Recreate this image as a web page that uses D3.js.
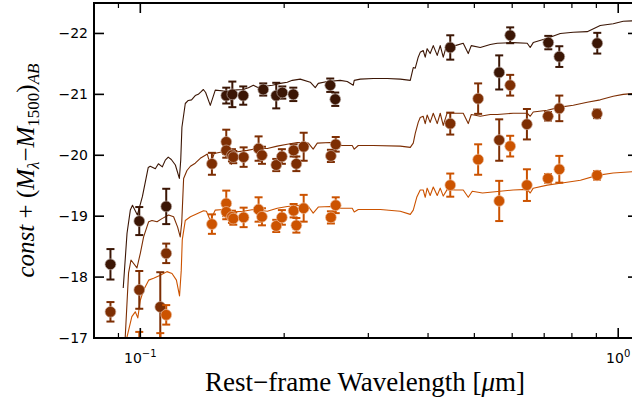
<!DOCTYPE html>
<html><head><meta charset="utf-8">
<script src="https://cdn.jsdelivr.net/npm/d3@7"></script>
<style>body{margin:0;background:#fff}</style>
</head><body>
<svg id="chart" width="632" height="400"></svg>
<script>
// Axis ticks
const xMajorTicks = [0.1, 1];
const xMinorTicks = [0.09, 0.2, 0.3, 0.4, 0.5, 0.6, 0.7, 0.8, 0.9];
const yTicks = [-22, -21, -20, -19, -18, -17];

// Model spectra (rest-frame wavelength in micron, AB magnitude)
const modelDarkLam = [0.0921,0.0938,0.0953,0.0963,0.0986,0.1010,0.1039,0.1049,0.1075,0.1091,0.1112,0.1128,0.1144,0.1161,0.1184,0.1207,0.1215,0.1222,0.1242,0.1260,0.1280,0.1303,0.1322,0.1339,0.1355,0.1370,0.1401,0.1435,0.1513,0.1543,0.1550,0.1565,0.1642,0.1683,0.1724,0.1766,0.1808,0.1889,0.1963,0.2030,0.2080,0.2161,0.2268,0.2323,0.2357,0.2462,0.2620,0.2710,0.2790,0.2803,0.2886,0.3072,0.3287,0.3499,0.3672,0.3725,0.3761,0.3815,0.3852,0.3908,0.3946,0.3983,0.4041,0.4102,0.4181,0.4242,0.4304,0.4388,0.4560,0.4739,0.4855,0.4926,0.5144,0.5399,0.5584,0.6028,0.6450,0.6544,0.6640,0.7106,0.7565,0.8052,0.8613,0.9170,0.9761,1.0243,1.10];
const modelDarkMag = [-17.82,-18.72,-19.10,-19.18,-19.02,-19.32,-19.80,-19.82,-19.78,-19.86,-19.81,-19.92,-19.97,-19.93,-19.84,-19.62,-19.92,-20.46,-20.85,-20.90,-20.91,-20.98,-21.00,-21.04,-21.08,-21.03,-20.82,-21.07,-21.05,-21.03,-20.82,-21.07,-21.08,-21.11,-21.15,-21.11,-21.13,-21.15,-21.18,-21.20,-21.23,-21.25,-21.20,-21.11,-21.18,-21.21,-21.23,-21.21,-21.15,-21.23,-21.25,-21.26,-21.26,-21.25,-21.23,-21.44,-21.43,-21.61,-21.69,-21.72,-21.61,-21.75,-21.67,-21.80,-21.64,-21.80,-21.61,-21.84,-21.80,-21.84,-21.67,-21.80,-21.77,-21.82,-21.84,-21.85,-21.84,-21.77,-21.85,-21.92,-22.00,-22.02,-22.03,-22.13,-22.16,-22.20,-22.21];

const modelMidLam = [0.0925,0.0930,0.0945,0.0956,0.0984,0.1000,0.1016,0.1041,0.1058,0.1084,0.1110,0.1146,0.1174,0.1197,0.1212,0.1221,0.1232,0.1252,0.1273,0.1303,0.1335,0.1368,0.1381,0.1401,0.1428,0.1470,0.1513,0.1535,0.1550,0.1572,0.1675,0.1757,0.1844,0.1934,0.2030,0.2131,0.2247,0.2300,0.2346,0.2497,0.2620,0.2776,0.2803,0.2858,0.3072,0.3499,0.3672,0.3725,0.3761,0.3815,0.3852,0.3908,0.3946,0.3983,0.4041,0.4102,0.4181,0.4242,0.4304,0.4388,0.4560,0.4739,0.4855,0.4926,0.5144,0.5399,0.5584,0.6028,0.6450,0.6544,0.6640,0.7106,0.7565,0.8052,0.8613,0.9170,0.9761,1.0243,1.10];
const modelMidMag = [-16.60,-17.02,-18.07,-18.28,-18.15,-18.39,-18.66,-18.91,-18.93,-18.91,-18.96,-19.02,-18.99,-18.82,-18.66,-18.90,-19.62,-19.75,-19.82,-19.87,-19.95,-20.00,-20.02,-19.84,-20.03,-20.05,-20.07,-20.05,-19.85,-20.05,-20.08,-20.11,-20.11,-20.15,-20.18,-20.21,-20.20,-20.10,-20.20,-20.21,-20.16,-20.16,-20.10,-20.16,-20.16,-20.15,-20.13,-20.20,-20.36,-20.54,-20.62,-20.64,-20.52,-20.66,-20.54,-20.69,-20.52,-20.69,-20.49,-20.70,-20.69,-20.69,-20.52,-20.67,-20.64,-20.67,-20.67,-20.69,-20.69,-20.64,-20.71,-20.74,-20.79,-20.82,-20.87,-20.91,-20.97,-21.00,-21.02];

const modelOrgLam = [0.0932,0.0938,0.0960,0.0976,0.0988,0.1000,0.1016,0.1041,0.1066,0.1101,0.1137,0.1165,0.1190,0.1208,0.1218,0.1224,0.1242,0.1273,0.1314,0.1356,0.1375,0.1401,0.1435,0.1492,0.1528,0.1550,0.1572,0.1642,0.1724,0.1844,0.1934,0.2030,0.2161,0.2252,0.2300,0.2357,0.2497,0.2620,0.2776,0.2803,0.2858,0.3180,0.3499,0.3672,0.3725,0.3788,0.3852,0.3908,0.3946,0.3983,0.4041,0.4102,0.4181,0.4242,0.4304,0.4388,0.4560,0.4739,0.4855,0.4950,0.5200,0.5659,0.6028,0.6450,0.6544,0.6640,0.7106,0.7565,0.8336,0.9040,0.9761,1.0698,1.10];
const modelOrgMag = [-16.60,-17.02,-17.35,-17.43,-17.33,-17.62,-17.79,-17.95,-17.98,-18.03,-18.09,-18.06,-17.95,-17.69,-18.11,-18.61,-18.93,-18.99,-19.04,-19.09,-19.08,-18.93,-19.10,-19.11,-19.08,-18.90,-19.07,-19.08,-19.11,-19.08,-19.13,-19.16,-19.18,-19.15,-19.05,-19.15,-19.16,-19.13,-19.13,-19.07,-19.11,-19.11,-19.08,-19.03,-19.10,-19.31,-19.43,-19.43,-19.31,-19.46,-19.34,-19.48,-19.34,-19.46,-19.33,-19.44,-19.43,-19.43,-19.31,-19.41,-19.38,-19.41,-19.43,-19.44,-19.38,-19.46,-19.51,-19.54,-19.59,-19.67,-19.71,-19.73,-19.73];

// Photometry with 1-sigma errors
const obsDarkLam = [0.0866,0.0995,0.1133,0.1513,0.1558,0.1642,0.1808,0.1925,0.1982,0.2090,0.2497,0.2558,0.4452,0.5636,0.5942,0.7140,0.7529,0.9040];
const obsDarkMag = [-18.21,-18.92,-19.16,-20.98,-21.00,-20.98,-21.08,-20.98,-21.03,-21.00,-21.15,-20.92,-21.77,-21.36,-21.97,-21.85,-21.62,-21.84];
const obsDarkErr = [0.25,0.23,0.29,0.13,0.21,0.15,0.10,0.21,0.10,0.11,0.11,0.11,0.20,0.28,0.13,0.11,0.17,0.17];

const obsMidLam = [0.0866,0.0995,0.1101,0.1133,0.1412,0.1513,0.1513,0.1555,0.1565,0.1645,0.1768,0.1797,0.1925,0.1978,0.2093,0.2121,0.2197,0.2505,0.2564,0.4452,0.5092,0.5636,0.5942,0.6441,0.7130,0.7529,0.9030];
const obsMidMag = [-17.43,-17.79,-17.51,-18.39,-19.86,-20.22,-20.08,-20.00,-19.97,-19.97,-20.11,-20.00,-19.84,-19.98,-20.08,-19.86,-20.14,-19.99,-20.18,-20.52,-20.93,-20.25,-21.15,-20.51,-20.64,-20.77,-20.68];
const obsMidErr = [0.16,0.31,0.57,0.16,0.18,0.20,0.12,0.10,0.10,0.16,0.20,0.14,0.10,0.12,0.10,0.12,0.23,0.10,0.12,0.18,0.25,0.34,0.17,0.25,0.07,0.21,0.07];

const obsOrgLam = [0.0866,0.0995,0.1101,0.1133,0.1412,0.1513,0.1513,0.1555,0.1565,0.1645,0.1768,0.1797,0.1925,0.1978,0.2093,0.2121,0.2197,0.2505,0.2564,0.4452,0.5092,0.5636,0.5942,0.6441,0.7130,0.7529,0.9030];
const obsOrgMag = [-16.44,-16.79,-16.51,-17.38,-18.87,-19.21,-19.07,-18.99,-18.96,-18.98,-19.11,-18.99,-18.84,-18.98,-19.09,-18.85,-19.13,-18.98,-19.18,-19.51,-19.93,-19.25,-20.15,-19.51,-19.62,-19.77,-19.67];
const obsOrgErr = [0.16,0.31,0.57,0.16,0.16,0.21,0.12,0.10,0.10,0.16,0.20,0.14,0.10,0.12,0.11,0.12,0.22,0.10,0.13,0.19,0.25,0.33,0.17,0.26,0.07,0.22,0.07];

const colDark = "#3b1605", colMid = "#7d2e03", colOrg = "#cc5300";

const svg = d3.select("#chart");
const x = d3.scaleLog().domain([0.08, 1.1]).range([94, 638]);
const y = d3.scaleLinear().domain([-22.5, -17]).range([3, 338]);
const [x0, x1] = x.range(), [y0, y1] = y.range();

svg.append("clipPath").attr("id", "plotclip")
  .append("rect").attr("x", x0).attr("y", y0).attr("width", x1 - x0).attr("height", y1 - y0);
const plot = svg.append("g").attr("clip-path", "url(#plotclip)");

const line = d3.line().x(d => x(d[0])).y(d => y(d[1]));
[[modelDarkLam, modelDarkMag, colDark], [modelMidLam, modelMidMag, colMid], [modelOrgLam, modelOrgMag, colOrg]]
  .forEach(([lam, mag, c]) => {
    plot.append("path").datum(d3.zip(lam, mag)).attr("d", line)
      .attr("fill", "none").attr("stroke", c).attr("stroke-width", 1.1).attr("stroke-linejoin", "round");
  });

function drawPoints(lam, mag, err, c) {
  const g = plot.append("g");
  const pts = d3.zip(lam, mag, err);
  const halo = d3.interpolateRgb(c, "#ffffff")(0.6);
  pts.forEach(([l, m, e]) => {
    const px = x(l), ya = y(m - e), yb = y(m + e);
    g.append("line").attr("x1", px).attr("x2", px).attr("y1", ya).attr("y2", yb)
      .attr("stroke", c).attr("stroke-width", 2);
    [ya, yb].forEach(yy => g.append("line").attr("x1", px - 4).attr("x2", px + 4)
      .attr("y1", yy).attr("y2", yy).attr("stroke", c).attr("stroke-width", 2));
  });
  g.selectAll("circle").data(pts).join("circle")
    .attr("cx", d => x(d[0])).attr("cy", d => y(d[1])).attr("r", 5.4)
    .attr("fill", c).attr("stroke", halo).attr("stroke-width", 0.7);
}
drawPoints(obsDarkLam, obsDarkMag, obsDarkErr, colDark);
drawPoints(obsMidLam, obsMidMag, obsMidErr, colMid);
drawPoints(obsOrgLam, obsOrgMag, obsOrgErr, colOrg);

// Frame and inward ticks on all four sides
const axes = svg.append("g").attr("stroke", "#000");
axes.append("rect").attr("x", x0).attr("y", y0).attr("width", x1 - x0).attr("height", y1 - y0)
  .attr("fill", "none").attr("stroke-width", 2);
xMajorTicks.forEach(t => {
  axes.append("line").attr("x1", x(t)).attr("x2", x(t)).attr("y1", y1).attr("y2", y1 - 10).attr("stroke-width", 1.6);
  axes.append("line").attr("x1", x(t)).attr("x2", x(t)).attr("y1", y0).attr("y2", y0 + 10).attr("stroke-width", 1.6);
});
xMinorTicks.forEach(t => {
  axes.append("line").attr("x1", x(t)).attr("x2", x(t)).attr("y1", y1).attr("y2", y1 - 5).attr("stroke-width", 1.2);
  axes.append("line").attr("x1", x(t)).attr("x2", x(t)).attr("y1", y0).attr("y2", y0 + 5).attr("stroke-width", 1.2);
});
yTicks.forEach(t => {
  axes.append("line").attr("x1", x0).attr("x2", x0 + 10).attr("y1", y(t)).attr("y2", y(t)).attr("stroke-width", 1.6);
  axes.append("line").attr("x1", x1).attr("x2", x1 - 10).attr("y1", y(t)).attr("y2", y(t)).attr("stroke-width", 1.6);
});

// Tick labels
const lab = svg.append("g").attr("font-family", "DejaVu Sans").attr("fill", "#000");
yTicks.forEach(t => {
  lab.append("text").attr("x", x0 - 6).attr("y", y(t) + 5).attr("text-anchor", "end")
    .attr("font-size", 14).text("\u2212" + Math.abs(t));
});
xMajorTicks.forEach(t => {
  const e = Math.round(Math.log10(t));
  const tx = lab.append("text").attr("x", x(t)).attr("y", 363).attr("text-anchor", "middle").attr("font-size", 14);
  tx.append("tspan").text("10");
  tx.append("tspan").attr("dy", -6).attr("font-size", 10).text(e < 0 ? "\u2212" + Math.abs(e) : String(e));
});

// Axis titles
const serif = "Liberation Serif";
const xt = svg.append("text").attr("x", 365).attr("y", 391).attr("text-anchor", "middle")
  .attr("font-family", serif).attr("font-size", 27);
xt.append("tspan").text("Rest\u2212frame Wavelength [");
xt.append("tspan").attr("font-style", "italic").text("\u03bc");
xt.append("tspan").text("m]");

const yt = svg.append("text").attr("transform", `translate(34,${(y0 + y1) / 2}) rotate(-90)`)
  .attr("text-anchor", "middle").attr("font-family", serif).attr("font-size", 25);
const part = (txt, it, dy, fs) => {
  const s = yt.append("tspan").text(txt);
  if (it) s.attr("font-style", "italic");
  if (dy) s.attr("dy", dy);
  if (fs) s.attr("font-size", fs);
};
part("const", true);
part(" + (", false);
part("M", true);
part("\u03bb", true, 5, 17);
part("\u2212", false, -5);
part("M", true);
part("1500", false, 5, 17);
part(")", false, -5);
part("AB", true, 5, 17);
</script>
</body></html>
